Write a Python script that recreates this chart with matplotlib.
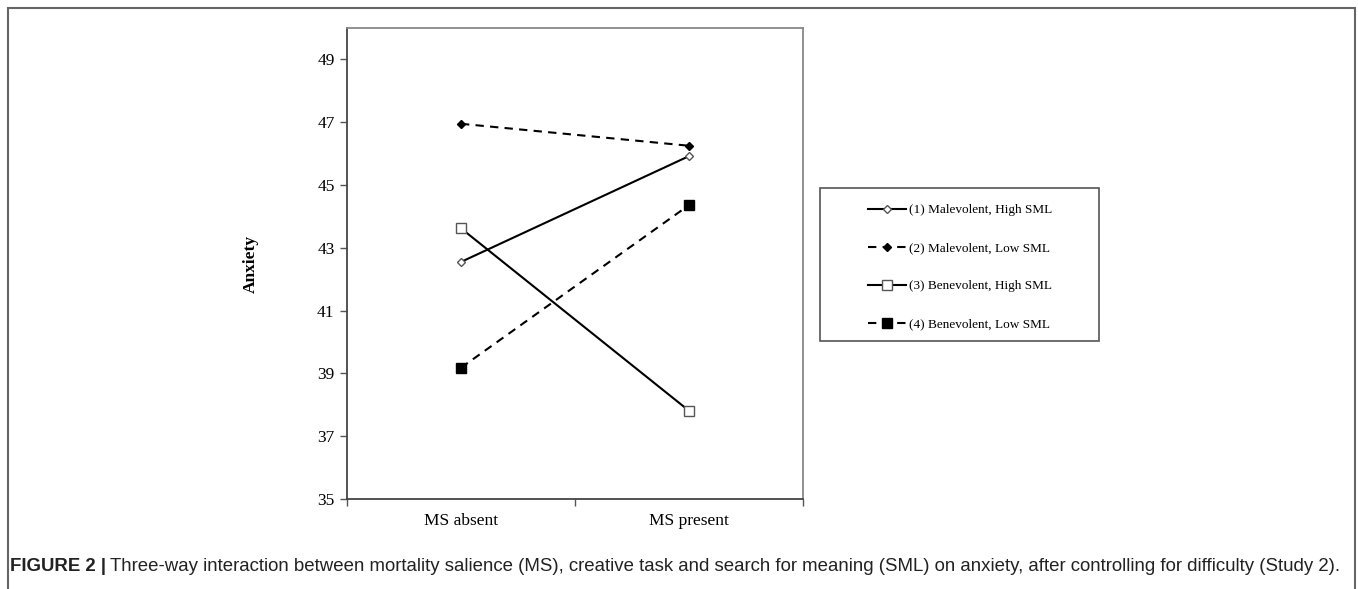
import matplotlib
matplotlib.use("Agg")
import matplotlib.pyplot as plt
from matplotlib.patches import Rectangle
from matplotlib.lines import Line2D

# data
conditions = ["MS absent", "MS present"]
labels = ["(1) Malevolent, High SML", "(2) Malevolent, Low SML",
          "(3) Benevolent, High SML", "(4) Benevolent, Low SML"]
mal_high = [42.55, 45.92]
mal_low  = [46.95, 46.25]
ben_high = [43.62, 37.81]
ben_low  = [39.18, 44.36]
yticks = [35, 37, 39, 41, 43, 45, 47, 49]

W, H = 1358, 589
fig = plt.figure(figsize=(W/100, H/100), dpi=100)

serif = ["Liberation Serif", "DejaVu Serif"]
sans  = ["Liberation Sans", "DejaVu Sans"]

ax = fig.add_axes([347/W, 1-499/H, (803-347)/W, (499-28)/H])
x = [0, 1]
styles = [
    dict(ls="-",  marker="D", ms=4.5, mfc="white", mec="#555555", mew=1.0),
    dict(ls=(0, (4, 3)), marker="D", ms=4.5, mfc="black", mec="black", mew=1.0),
    dict(ls="-",  marker="s", ms=6.5, mfc="white", mec="#555555", mew=1.0),
    dict(ls=(0, (4, 3)), marker="s", ms=6.5, mfc="black", mec="black", mew=1.0),
]
series = [mal_high, mal_low, ben_high, ben_low]
for vals, st in zip(series, styles):
    ax.plot(x, vals, color="black", lw=1.5, **st)

ax.set_xlim(-0.5, 1.5)
ax.set_ylim(35, 50)
ax.set_yticks(yticks)
ax.set_yticklabels([str(t) for t in yticks], fontfamily=serif, fontsize=12.5)
ax.set_xticks([-0.5, 0.5, 1.5])
ax.set_xticklabels([])
ax.set_xticks(x, minor=True)
ax.set_xticklabels(conditions, minor=True, fontfamily=serif, fontsize=12.5)
ax.tick_params(axis="x", which="minor", length=0, pad=10)
ax.tick_params(axis="both", which="major", length=5, width=1, color="#555555")
ax.tick_params(axis="y", pad=4)
for s in ax.spines.values():
    s.set_color("#888888")
    s.set_linewidth(1.3)
ax.spines["left"].set_color("#444444")
ax.spines["bottom"].set_color("#444444")
ax.set_ylabel("Anxiety", fontfamily=serif, fontsize=12.5, fontweight="bold", labelpad=42)

# legend in its own box
fig.patches.append(Rectangle((820/W, 1-341/H), 279/W, 153/H, transform=fig.transFigure,
                             fill=False, edgecolor="#555555", lw=1.2))
handles = [Line2D([], [], color="black", lw=1.5, **st) for st in styles]
fig.legend(handles, labels, loc="upper left", bbox_to_anchor=(868/W, 1-204/H),
           frameon=False, prop={"family": serif, "size": 9.5}, labelspacing=1.95,
           handlelength=2.9, handletextpad=0.2, borderaxespad=0, borderpad=0)

# outer border
fig.patches.append(Rectangle((8/W, -0.05), (1355-8)/W, 1.05-8/H, transform=fig.transFigure,
                             fill=False, edgecolor="#666666", lw=1.5))

# caption
t1 = fig.text(10/W, 1-571/H, "FIGURE 2 |", fontfamily=sans, fontweight="bold",
              fontsize=13.4, va="baseline", color="#222222")
fig.canvas.draw()
bb = t1.get_window_extent(fig.canvas.get_renderer())
fig.text((bb.x1 + 4)/W, 1-571/H,
         "Three-way interaction between mortality salience (MS), creative task and search for "
         "meaning (SML) on anxiety, after controlling for difficulty (Study 2).",
         fontfamily=sans, fontsize=13.4, va="baseline", color="#222222")

fig.savefig("out.png", dpi=100, facecolor="white")
